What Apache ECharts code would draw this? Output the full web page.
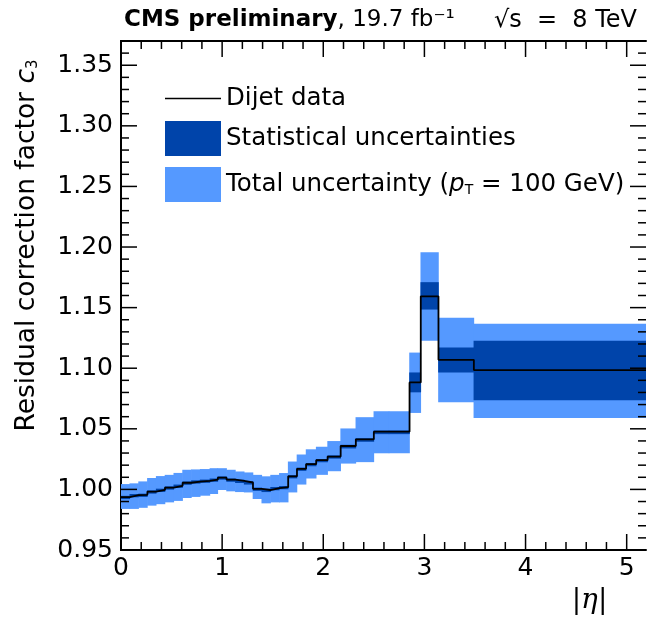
<!DOCTYPE html>
<html>
<head>
<meta charset="utf-8">
<script src="https://cdn.jsdelivr.net/npm/echarts@6/dist/echarts.min.js"></script>
<style>html,body{margin:0;padding:0;background:#fff;}#c{width:650px;height:617px;}</style>
</head>
<body>
<div id="c"></div>
<script>
// |eta| bin edges
const binEdges = [0,0.087,0.174,0.261,0.348,0.435,0.522,0.609,0.696,0.783,0.879,0.957,1.044,1.131,1.218,1.305,1.392,1.479,1.566,1.653,1.74,1.83,1.93,2.043,2.172,2.322,2.5,2.65,2.853,2.964,3.139,3.489,5.191];
// Dijet data (residual correction c3)
const dijet = [0.9937,0.9952,0.9955,0.9982,0.9996,1.0015,1.0030,1.0055,1.0065,1.0071,1.0080,1.0097,1.0080,1.0070,1.0057,1.0005,0.9995,1.0010,1.0018,1.0108,1.0170,1.0208,1.0241,1.0271,1.0358,1.0413,1.0476,1.0476,1.0883,1.1593,1.1069,1.0985];
// Statistical uncertainty band
const statLo = [0.9920,0.9935,0.9938,0.9965,0.9979,0.9998,1.0013,1.0038,1.0048,1.0054,1.0063,1.0080,1.0063,1.0053,1.0040,0.9988,0.9978,0.9993,1.0001,1.0091,1.0153,1.0191,1.0224,1.0254,1.0338,1.0393,1.0456,1.0456,1.0801,1.1484,1.0965,1.0735];
const statHi = [0.9947,0.9962,0.9965,0.9992,1.0006,1.0025,1.0040,1.0065,1.0075,1.0081,1.0090,1.0107,1.0090,1.0080,1.0067,1.0015,1.0005,1.0020,1.0028,1.0118,1.0180,1.0218,1.0251,1.0281,1.0368,1.0423,1.0486,1.0486,1.0965,1.1710,1.1170,1.1227];
// Total uncertainty band (pT = 100 GeV)
const totLo = [0.9839,0.9839,0.9848,0.9866,0.9878,0.9893,0.9905,0.9929,0.9938,0.9948,0.9962,0.9995,0.9984,0.9978,0.9975,0.9921,0.9885,0.9893,0.9893,0.9975,1.0040,1.0090,1.0120,1.0150,1.0213,1.0225,1.0298,1.0298,1.0631,1.1227,1.0719,1.0590];
const totHi = [1.0044,1.0050,1.0066,1.0094,1.0110,1.0120,1.0136,1.0162,1.0165,1.0168,1.0175,1.0175,1.0162,1.0148,1.0140,1.0120,1.0108,1.0120,1.0135,1.0230,1.0288,1.0331,1.0352,1.0399,1.0503,1.0596,1.0645,1.0645,1.1129,1.1957,1.1416,1.1366];
// axis ticks
const yTicks = ['0.95','1.00','1.05','1.10','1.15','1.20','1.25','1.30','1.35'];
const xTicks = ['0','1','2','3','4','5'];

const LIGHT = '#5599ff', DARK = '#0044aa';
const FONT = 'DejaVu Sans';
const X_MIN = 0, X_MAX = 5.191, Y_MIN = 0.95, Y_MAX = 1.37;

function bandData(lo, hi) {
  return lo.map((v, i) => [binEdges[i], binEdges[i + 1], v, hi[i]]);
}
function renderBand(params, api) {
  const a = api.coord([api.value(0), api.value(3)]);
  const b = api.coord([api.value(1), api.value(2)]);
  return {
    type: 'rect',
    shape: { x: a[0] - 0.3, y: a[1], width: b[0] - a[0] + 0.6, height: b[1] - a[1] },
    style: { fill: api.visual('color') }
  };
}
const lineData = binEdges.map((e, i) => [e, dijet[Math.min(i, dijet.length - 1)]]);

// inside tick marks on all four sides (major + minor), placed via the axis scales
const tickItems = [];
for (let k = 0; k <= 25; k++) tickItems.push([k * 0.2, 1.0, 0, k % 5 === 0 ? 1 : 0]);
for (let k = 0; k <= 42; k++) tickItems.push([1.0, 0.95 + k * 0.01, 1, k % 5 === 0 ? 1 : 0]);
function renderTick(params, api) {
  const cs = params.coordSys;
  const kind = api.value(2), major = api.value(3);
  const L = major ? 16 : 8;
  const st = { stroke: '#000', lineWidth: 1.5 };
  if (kind === 0) {
    const px = api.coord([api.value(0), Y_MIN])[0];
    return { type: 'group', children: [
      { type: 'line', shape: { x1: px, y1: cs.y + cs.height, x2: px, y2: cs.y + cs.height - L }, style: st },
      { type: 'line', shape: { x1: px, y1: cs.y, x2: px, y2: cs.y + L }, style: st }
    ] };
  }
  const py = api.coord([X_MIN, api.value(1)])[1];
  return { type: 'group', children: [
    { type: 'line', shape: { x1: cs.x, y1: py, x2: cs.x + L, y2: py }, style: st },
    { type: 'line', shape: { x1: cs.x + cs.width, y1: py, x2: cs.x + cs.width - L, y2: py }, style: st }
  ] };
}

const chart = echarts.init(document.getElementById('c'), null, { renderer: 'canvas' });
const axisLine = { show: true, lineStyle: { color: '#000', width: 2 } };
const noTick = { show: false };
const legendText = { fontFamily: FONT, fontSize: 24.5, color: '#000' };
chart.setOption({
  animation: false,
  textStyle: { fontFamily: FONT },
  grid: { left: 121, right: 4, top: 41, bottom: 67, containLabel: false, outerBoundsMode: 'none' },
  title: [
    { text: '{b|CMS preliminary}{n|, 19.7 fb⁻¹}', left: 119, top: 4,
      textStyle: { fontWeight: 'normal', rich: { b: { fontFamily: FONT, fontWeight: 'bold', fontSize: 23, color: '#000' }, n: { fontFamily: FONT, fontWeight: 'normal', fontSize: 23, color: '#000' } } } },
    { text: '√s  =  8 TeV', right: 8, top: 4, textStyle: { fontFamily: FONT, fontSize: 24, fontWeight: 'normal', color: '#000' } }
  ],
  legend: [
    { data: [{ name: 'Dijet data', icon: 'rect' }], left: 165, top: 86, padding: 0, itemWidth: 56, itemHeight: 1.5,
      textStyle: legendText },
    { data: [{ name: 'Statistical uncertainties', icon: 'rect' }], left: 165, top: 121, padding: 0, itemWidth: 56, itemHeight: 35,
      textStyle: legendText },
    { data: [{ name: 'Total uncertainty', icon: 'rect' }], left: 165, top: 167, padding: 0, itemWidth: 56, itemHeight: 35,
      formatter: () => '{n|Total uncertainty (}{i|p}{s|T}{n| = 100 GeV)}',
      textStyle: { fontFamily: FONT, fontSize: 24.5, color: '#000',
        rich: { n: { fontFamily: FONT, fontSize: 24.5, color: '#000' },
                i: { fontFamily: FONT, fontSize: 24.5, fontStyle: 'italic', color: '#000' },
                s: { fontFamily: FONT, fontSize: 14, color: '#000', padding: [12, 0, 0, 0] } } } }
  ],
  xAxis: [
    { type: 'value', min: X_MIN, max: X_MAX, interval: 1, position: 'bottom',
      axisLine, splitLine: { show: false }, axisTick: noTick, minorTick: noTick,
      axisLabel: { showMaxLabel: false, margin: 6, fontSize: 25, color: '#000', fontFamily: FONT,
        formatter: v => { const i = Math.round(v); return Math.abs(v - i) < 1e-6 ? xTicks[i] : ''; } },
      name: '|η|', nameLocation: 'middle', nameGap: 37,
      nameTextStyle: { fontFamily: 'DejaVu Serif', fontStyle: 'italic', fontSize: 28, color: '#000', padding: [0, 0, 0, 412] } },
    { type: 'value', min: X_MIN, max: X_MAX, interval: 1, position: 'top',
      axisLine, splitLine: { show: false }, axisTick: noTick, minorTick: noTick,
      axisLabel: { show: false } }
  ],
  yAxis: [
    { type: 'value', min: Y_MIN, max: Y_MAX, interval: 0.05, position: 'left',
      axisLine, splitLine: { show: false }, axisTick: noTick, minorTick: noTick,
      axisLabel: { showMaxLabel: false, margin: 8, fontSize: 25, color: '#000', fontFamily: FONT,
        formatter: v => { const i = Math.round((v - 0.95) / 0.05); return Math.abs(v - (0.95 + i * 0.05)) < 1e-6 ? yTicks[i] : ''; } },
      name: '{n|Residual correction factor }{i|c}{s|3}', nameLocation: 'middle', nameGap: 80, nameRotate: 90,
      nameTextStyle: { padding: [0, 0, 0, 100],
        rich: { n: { fontFamily: FONT, fontSize: 26.5, color: '#000' },
                i: { fontFamily: FONT, fontSize: 26.5, fontStyle: 'italic', color: '#000' },
                s: { fontFamily: FONT, fontSize: 15, color: '#000', padding: [11, 0, 0, 0] } } } },
    { type: 'value', min: Y_MIN, max: Y_MAX, interval: 0.05, position: 'right',
      axisLine, splitLine: { show: false }, axisTick: noTick, minorTick: noTick,
      axisLabel: { show: false } }
  ],
  series: [
    { name: 'Total uncertainty', type: 'custom', renderItem: renderBand, data: bandData(totLo, totHi),
      encode: { x: [0, 1], y: [2, 3] }, itemStyle: { color: LIGHT }, clip: true, z: 1 },
    { name: 'Statistical uncertainties', type: 'custom', renderItem: renderBand, data: bandData(statLo, statHi),
      encode: { x: [0, 1], y: [2, 3] }, itemStyle: { color: DARK }, clip: true, z: 2 },
    { name: 'Dijet data', type: 'line', step: 'end', data: lineData, symbol: 'none',
      lineStyle: { color: '#000', width: 1.8 }, itemStyle: { color: '#000' }, z: 3 },
    { name: 'ticks', type: 'custom', renderItem: renderTick, data: tickItems,
      encode: { x: 0, y: 1 }, clip: false, silent: true, z: 10, tooltip: { show: false } }
  ]
});
</script>
</body>
</html>
